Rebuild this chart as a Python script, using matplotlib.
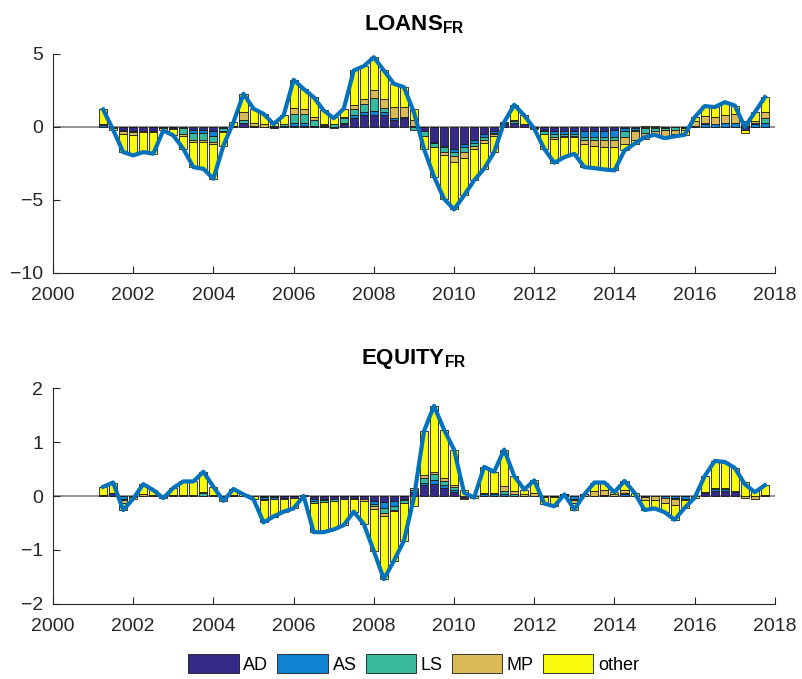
import numpy as np
import matplotlib.pyplot as plt

plt.rcParams['font.family'] = ['Liberation Sans', 'DejaVu Sans']
plt.rcParams['mathtext.fontset'] = 'custom'
plt.rcParams['mathtext.bf'] = 'Liberation Sans:bold'
plt.rcParams['mathtext.rm'] = 'Liberation Sans'

# quarterly dates 2001Q1 .. 2017Q3
dates = 2001.25 + 0.25 * np.arange(67)

# ---- LOANS_FR ----
loans_total = [1.2, -0.2, -1.72, -1.95, -1.72, -1.83, -0.24, -0.58, -1.5, -2.75,
               -2.87, -3.55, -1.27, 0.33, 2.27, 1.25, 0.9, 0.2, 0.79, 3.23,
               2.6, 2.04, 1.13, 0.6, 1.25, 3.87, 4.17, 4.78, 3.87, 2.96,
               2.73, 1.01, -1.5, -3.4, -4.92, -5.65, -4.69, -3.66, -2.86, -1.72,
               0.33, 1.52, 0.79, -0.12, -1.5, -2.45, -2.07, -1.84, -2.75, -2.82,
               -2.91, -2.98, -1.61, -1.15, -0.7, -0.54, -0.77, -0.64, -0.54, 0.67,
               1.43, 1.36, 1.7, 1.47, 0.0, 1.01, 2.04]
loans_AD = [0, 0, -0.2, -0.25, -0.25, -0.25, -0.05, -0.05, 0, -0.2,
            -0.2, -0.25, 0, 0, 0.3, 0.05, 0, -0.1, 0, 0.1,
            0.1, 0, 0, -0.1, 0.2, 0.6, 0.8, 0.8, 0.8, 0.5,
            0.6, 0.1, -0.3, -1.0, -1.3, -1.5, -1.2, -0.9, -0.5, -0.3,
            0.2, 0.3, 0.2, -0.1, -0.2, -0.3, -0.3, -0.3, -0.3, -0.3,
            -0.3, -0.2, -0.1, -0.1, 0, 0, -0.1, 0, -0.1, 0,
            0, 0, 0, 0, -0.2, 0, 0]
loans_AS = [0.15, 0, 0, 0, 0, 0, 0, 0, -0.1, -0.2,
            -0.2, -0.4, -0.1, 0, 0, 0, 0, 0, 0.05, 0.2,
            0.2, 0.1, 0.05, 0, 0.1, 0.2, 0.2, 0.3, 0.2, 0.1,
            0.1, 0, 0, -0.1, -0.1, -0.2, -0.2, -0.2, -0.2, -0.1,
            0, 0, 0, 0, -0.1, -0.2, -0.2, -0.2, -0.4, -0.4,
            -0.4, -0.5, -0.2, -0.1, -0.1, -0.1, 0, 0, 0, 0.1,
            0.2, 0.2, 0.3, 0.3, 0, 0.2, 0.3]
loans_LS = [0.05, 0, -0.1, -0.1, -0.05, 0, 0, 0, -0.4, -0.5,
            -0.5, -0.4, -0.2, 0, 0.2, 0, 0, 0.05, 0.15, 0.6,
            0.6, 0.4, 0.1, 0.2, 0.3, 0.4, 0.6, 0.9, 0.3, 0,
            0, -0.2, -0.3, -0.3, -0.3, -0.3, -0.3, -0.2, -0.2, -0.1,
            0.1, 0.1, 0, 0, -0.2, -0.2, -0.1, -0.1, -0.2, -0.2,
            -0.2, -0.2, -0.4, -0.1, -0.3, -0.2, -0.1, -0.2, 0, 0,
            0.05, 0, 0, 0, 0.1, 0.1, 0.3]
loans_MP = [0, -0.05, -0.2, -0.2, -0.05, -0.1, -0.05, -0.1, -0.1, -0.1,
            -0.1, -0.1, -0.05, 0.05, 0.5, 0.2, 0.2, 0, 0, 0.4,
            0.3, 0.2, 0.05, 0, 0.1, 0.3, 0.3, 0.5, 0.6, 0.8,
            0.7, 0.4, 0, 0, -0.2, -0.4, -0.4, -0.2, -0.2, -0.1,
            0, 0.1, 0, 0, 0, -0.1, -0.1, -0.1, -0.3, -0.4,
            -0.5, -0.5, -0.5, -0.6, -0.4, -0.3, -0.4, -0.3, -0.1, 0.3,
            0.5, 0.5, 0.5, 0.6, 0.3, 0.1, 0.4]
loans_other = [1.0, -0.15, -1.22, -1.4, -1.37, -1.48, -0.14, -0.43, -0.9, -1.75,
               -1.87, -2.4, -0.92, 0.28, 1.27, 1.0, 0.7, 0.25, 0.59, 1.93,
               1.4, 1.34, 0.93, 0.5, 0.55, 2.37, 2.27, 2.28, 1.97, 1.56,
               1.33, 0.71, -0.9, -2.0, -3.02, -3.25, -2.59, -2.16, -1.76, -1.12,
               0.03, 1.02, 0.59, -0.02, -1.0, -1.65, -1.37, -1.14, -1.55, -1.52,
               -1.51, -1.58, -0.41, -0.25, 0.1, 0.06, -0.17, -0.14, -0.34, 0.27,
               0.68, 0.66, 0.9, 0.57, -0.2, 0.61, 1.04]

# ---- EQUITY_FR ----
equity_total = [0.17, 0.25, -0.26, -0.05, 0.22, 0.11, -0.04, 0.15, 0.27, 0.27,
                0.45, 0.17, -0.09, 0.13, 0.03, -0.06, -0.49, -0.38, -0.29, -0.23,
                0.0, -0.67, -0.67, -0.62, -0.54, -0.29, -0.52, -1.02, -1.54, -1.2,
                -0.83, -0.03, 1.2, 1.67, 1.23, 0.86, 0.06, -0.03, 0.54, 0.45,
                0.86, 0.37, 0.12, 0.29, -0.14, -0.19, 0.03, -0.25, 0.03, 0.25,
                0.25, 0.07, 0.28, 0.06, -0.26, -0.23, -0.3, -0.44, -0.22, -0.03,
                0.37, 0.65, 0.63, 0.52, 0.22, 0.07, 0.2]
equity_AD = [0.02, 0.05, 0, 0, 0, 0, 0, 0.02, 0.02, 0.02,
             0, 0.02, -0.03, 0, 0, 0, -0.02, -0.02, -0.03, -0.03,
             0, -0.06, -0.06, -0.06, -0.06, -0.03, -0.06, -0.1, -0.12, -0.1,
             -0.05, 0.08, 0.2, 0.22, 0.15, 0.08, -0.04, 0, 0, 0,
             0, 0, 0, 0, 0, -0.02, 0.03, 0, 0, 0,
             0, 0, 0, 0, 0, 0, 0, 0, 0, 0,
             0.05, 0.1, 0.1, 0.08, 0, 0, 0.02]
equity_AS = [0, 0, -0.05, 0, 0, 0, 0, 0, 0, 0,
             0, 0, 0, 0, 0, 0, -0.03, -0.03, -0.03, 0,
             0, -0.03, -0.02, 0, 0, 0, 0, -0.04, -0.1, -0.08,
             -0.03, 0, 0.05, 0.08, 0.05, 0.03, 0, 0, 0.03, 0.03,
             0.04, 0, 0, 0, 0, 0, 0, -0.05, 0, 0,
             0.02, 0, 0.03, 0, -0.02, 0, -0.03, -0.03, -0.05, 0,
             0.02, 0.03, 0.03, 0.02, 0, 0, 0]
equity_LS = [0, 0, -0.03, 0, 0, 0, 0, 0, 0, 0,
             0.05, 0, 0, 0.02, 0, 0, -0.02, 0, 0, 0,
             0, -0.04, -0.04, -0.04, 0, 0, 0, -0.05, -0.1, -0.08,
             -0.05, 0.04, 0.08, 0.1, 0.08, 0.05, 0, 0, 0.03, 0.02,
             0.05, 0.03, 0, 0, 0, 0, 0, -0.03, 0, 0,
             0, 0, 0.03, 0, 0, 0, 0, -0.03, 0, 0,
             0, 0.02, 0.02, 0, 0, 0, 0]
equity_MP = [0, 0, -0.05, -0.02, 0.03, 0.01, 0, 0, 0, 0,
             0.03, 0, 0, 0, 0, 0, 0, 0, 0, 0,
             0, 0, 0, 0, 0, -0.02, -0.03, -0.05, -0.05, -0.02,
             0, 0.03, 0.05, 0.05, 0.05, 0.04, -0.02, 0, 0, 0,
             0.1, 0.06, 0.03, 0.05, -0.02, 0, 0, -0.05, 0.03, 0.1,
             0.1, 0.03, 0.05, 0, -0.05, -0.08, -0.1, -0.1, -0.03, 0,
             0, 0, 0, 0, -0.04, -0.05, 0]
equity_other = [0.15, 0.2, -0.13, -0.03, 0.19, 0.1, -0.04, 0.13, 0.25, 0.25,
                0.37, 0.15, -0.06, 0.11, 0.03, -0.06, -0.42, -0.33, -0.23, -0.2,
                0.02, -0.54, -0.55, -0.52, -0.48, -0.24, -0.43, -0.78, -1.17, -0.92,
                -0.7, -0.18, 0.82, 1.22, 0.9, 0.66, 0.12, -0.03, 0.48, 0.4,
                0.67, 0.28, 0.09, 0.24, -0.12, -0.17, 0.0, -0.12, 0.0, 0.15,
                0.13, 0.04, 0.17, 0.06, -0.19, -0.15, -0.17, -0.28, -0.14, -0.03,
                0.3, 0.5, 0.48, 0.42, 0.26, 0.12, 0.18]

names = ['AD', 'AS', 'LS', 'MP', 'other']
colors = ['#352A87', '#1283D4', '#38B99E', '#D9BA56', '#F9FB0E']
line_color = '#0072BD'

fig = plt.figure(figsize=(8.03, 6.79), dpi=100)
ax1 = fig.add_axes([0.066, 0.598, 0.899, 0.3225])
ax2 = fig.add_axes([0.066, 0.1105, 0.899, 0.318])


def hd_panel(ax, comps, total, title, ylim, yticks):
    pos = np.zeros(len(dates))
    neg = np.zeros(len(dates))
    for vals, c, n in zip(comps, colors, names):
        v = np.array(vals)
        bottom = np.where(v >= 0, pos, neg)
        ax.bar(dates, v, width=0.2, bottom=bottom, color=c, edgecolor='#1a1a1a',
               linewidth=0.6, label=n, zorder=2)
        pos = pos + np.where(v >= 0, v, 0)
        neg = neg + np.where(v < 0, v, 0)
    ax.axhline(0, color='#808080', lw=1.2, zorder=1)
    ax.plot(dates, total, color=line_color, lw=3, zorder=3)
    ax.set_xlim(2000, 2018)
    ax.set_ylim(*ylim)
    ax.set_xticks(np.arange(2000, 2019, 2))
    ax.set_yticks(yticks)
    ax.tick_params(direction='in', length=5, labelsize=14, colors='#262626')
    ax.tick_params(axis='x', pad=10)
    ax.tick_params(axis='y', pad=7)
    for s in ['top', 'right']:
        ax.spines[s].set_visible(False)
    for s in ['left', 'bottom']:
        ax.spines[s].set_color('#262626')
    ax.set_title(title, fontsize=16, pad=17)


hd_panel(ax1, [loans_AD, loans_AS, loans_LS, loans_MP, loans_other], loans_total,
         r'$\mathbf{LOANS}_{\mathbf{FR}}$', (-10, 5), [-10, -5, 0, 5])
hd_panel(ax2, [equity_AD, equity_AS, equity_LS, equity_MP, equity_other], equity_total,
         r'$\mathbf{EQUITY}_{\mathbf{FR}}$', (-2, 2), [-2, -1, 0, 1, 2])

handles, labels = ax1.get_legend_handles_labels()
bar_handles = [h for h, l in zip(handles, labels) if l in names]
fig.legend(bar_handles, names, loc='center', bbox_to_anchor=(0.515, 0.022), ncol=5,
           frameon=False, fontsize=13, handlelength=2.8, handleheight=1.2,
           handletextpad=0.25, columnspacing=0.5)

fig.savefig('out.png', dpi=100)
